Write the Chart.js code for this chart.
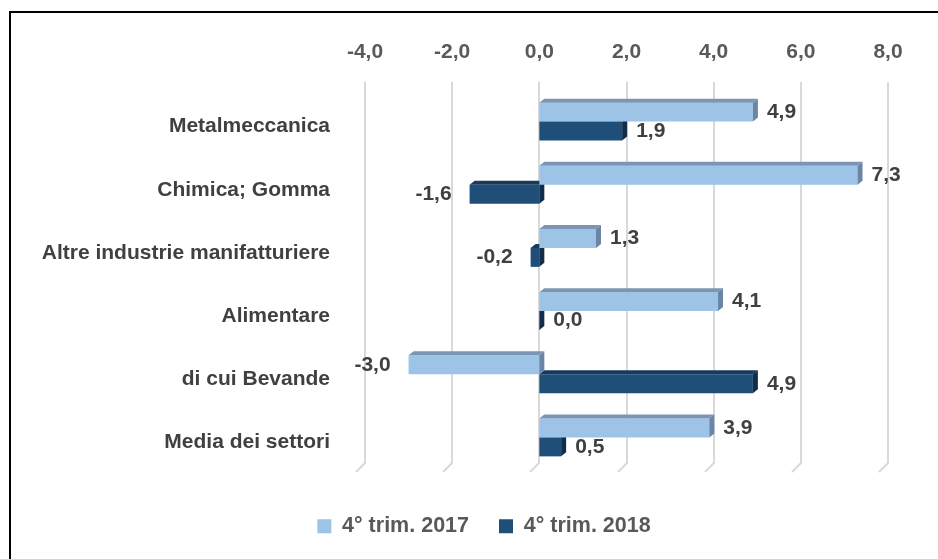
<!DOCTYPE html>
<html>
<head>
<meta charset="utf-8">
<script src="https://cdn.jsdelivr.net/npm/chart.js@4/dist/chart.umd.min.js"></script>
<style>
  html, body { margin: 0; padding: 0; background: #fff; overflow: hidden; }
  #wrap { position: relative; width: 938px; height: 559px; }
  #frame { position: absolute; left: 9px; top: 11px; width: 2000px; height: 2000px;
           border-top: 2px solid #000; border-left: 2px solid #000; pointer-events: none; }
  canvas { position: absolute; left: 0; top: 0; }
</style>
</head>
<body>
<div id="wrap">
  <div id="frame"></div>
  <canvas id="c" width="938" height="559"></canvas>
</div>
<script>
const categories = ['Metalmeccanica', 'Chimica; Gomma', 'Altre industrie manifatturiere', 'Alimentare', 'di cui Bevande', 'Media dei settori'];
const values2017 = [4.9, 7.3, 1.3, 4.1, -3.0, 3.9];
const values2018 = [1.9, -1.6, -0.2, 0.0, 4.9, 0.5];
const seriesLabels = ['4° trim. 2017', '4° trim. 2018'];
const axisMin = -4, axisMax = 8, axisStep = 2;

const FONT = "'Liberation Sans', Arial, sans-serif";
const fmt = v => Number(v).toFixed(1).replace('.', ',');

const faceColors = [
  { top: '#7b96b5', side: '#6a85a5' },
  { top: '#173a5f', side: '#122d4a' }
];

const gridPlugin = {
  id: 'grid3d',
  beforeDatasetsDraw(chart) {
    const xs = chart.scales.x, area = chart.chartArea, ctx = chart.ctx;
    ctx.save();
    ctx.strokeStyle = '#d9d9d9';
    ctx.lineWidth = 2;
    xs.ticks.forEach(t => {
      const px = Math.round(xs.getPixelForValue(t.value));
      ctx.beginPath();
      ctx.moveTo(px, area.top - 8);
      ctx.lineTo(px, area.bottom - 6);
      ctx.lineTo(px - 9, area.bottom + 3);
      ctx.stroke();
    });
    ctx.restore();
  }
};

const facePlugin = {
  id: 'faces3d',
  afterDatasetDraw(chart, args) {
    const ctx = chart.ctx, meta = args.meta, c = faceColors[args.index];
    const dx = 5, dy = 4;
    ctx.save();
    meta.data.forEach(el => {
      const p = el.getProps(['x', 'y', 'base', 'height'], true);
      const left = Math.min(p.x, p.base), right = Math.max(p.x, p.base);
      const top = p.y - p.height / 2, bottom = p.y + p.height / 2;
      ctx.fillStyle = c.top;
      ctx.beginPath();
      ctx.moveTo(left, top); ctx.lineTo(left + dx, top - dy);
      ctx.lineTo(right + dx, top - dy); ctx.lineTo(right, top); ctx.closePath(); ctx.fill();
      ctx.fillStyle = c.side;
      ctx.beginPath();
      ctx.moveTo(right, top); ctx.lineTo(right + dx, top - dy);
      ctx.lineTo(right + dx, bottom - dy); ctx.lineTo(right, bottom); ctx.closePath(); ctx.fill();
    });
    ctx.restore();
  }
};

const labelPlugin = {
  id: 'valueLabels',
  afterDatasetsDraw(chart) {
    const ctx = chart.ctx;
    ctx.save();
    ctx.font = 'bold 21px ' + FONT;
    ctx.fillStyle = '#404040';
    ctx.textBaseline = 'middle';
    chart.data.datasets.forEach((ds, di) => {
      const meta = chart.getDatasetMeta(di);
      meta.data.forEach((el, i) => {
        const v = ds.data[i];
        const p = el.getProps(['x', 'y'], true);
        if (v < 0) {
          ctx.textAlign = 'right';
          ctx.fillText(fmt(v), p.x - 18, p.y);
        } else {
          ctx.textAlign = 'left';
          ctx.fillText(fmt(v), p.x + 14, p.y);
        }
      });
    });
    ctx.restore();
  }
};

new Chart(document.getElementById('c'), {
  type: 'bar',
  data: {
    labels: categories,
    datasets: [
      { label: seriesLabels[0], data: values2017, backgroundColor: '#9dc3e6', borderWidth: 0, xAxisID: 'x', yAxisID: 'y' },
      { label: seriesLabels[1], data: values2018, backgroundColor: '#1f4e79', borderWidth: 0, xAxisID: 'x', yAxisID: 'y' }
    ]
  },
  options: {
    indexAxis: 'y',
    responsive: false,
    animation: false,
    devicePixelRatio: 1,
    layout: { padding: { left: 30, right: 0, top: 0, bottom: 12 } },
    datasets: { bar: { categoryPercentage: 0.6, barPercentage: 1.0 } },
    scales: {
      x: {
        type: 'linear', position: 'top', min: axisMin, max: axisMax,
        grid: { display: false, drawTicks: false },
        border: { display: false },
        ticks: { stepSize: axisStep, padding: 25, color: '#595959',
                 font: { family: FONT, size: 21, weight: 'bold' },
                 callback: v => fmt(v) },
        afterFit: s => { s.height = 90; }
      },
      xBottom: {
        type: 'linear', axis: 'x', position: 'bottom', min: 0, max: 1,
        grid: { display: false, drawTicks: false }, border: { display: false },
        ticks: { display: false },
        afterFit: s => { s.height = 16.5; }
      },
      y: {
        type: 'category', position: 'left',
        grid: { display: false, drawTicks: false },
        border: { display: false },
        ticks: { padding: 35, labelOffset: 5, color: '#404040',
                 font: { family: FONT, size: 21, weight: 'bold' } },
        afterFit: s => { s.width = 335; }
      },
      yRight: {
        type: 'linear', axis: 'y', position: 'right', min: 0, max: 1,
        grid: { display: false, drawTicks: false }, border: { display: false },
        ticks: { display: false },
        afterFit: s => { s.width = 50; }
      }
    },
    plugins: {
      legend: {
        position: 'bottom',
        labels: { boxWidth: 14, boxHeight: 14, padding: 30, color: '#595959',
                  font: { family: FONT, size: 21.5, weight: 'bold' } }
      },
      tooltip: { enabled: false }
    }
  },
  plugins: [gridPlugin, facePlugin, labelPlugin]
});
</script>
</body>
</html>
